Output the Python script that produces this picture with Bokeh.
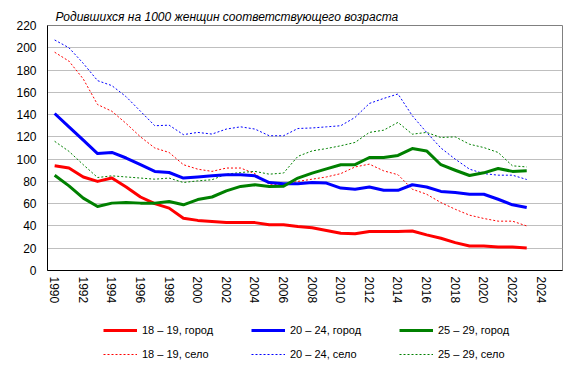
from bokeh.plotting import figure
from bokeh.models import Range1d, FixedTicker, Legend, LegendItem
from bokeh.layouts import column
from bokeh.embed import file_html
from bokeh.resources import INLINE

years = list(range(1990, 2024))

city_18_19 = [94, 92, 84, 80, 83, 75, 66, 60, 56, 47, 45, 44, 43, 43, 43, 41, 41, 39.5,
              38.3, 36, 33.5, 33, 35, 35, 35, 35.5, 32, 29, 25, 22, 22, 21, 21, 20.3]
city_20_24 = [141, 129, 117, 105, 106, 101, 95, 89, 88, 83, 84, 85, 86, 86, 85, 79, 78, 78,
              79, 78.5, 74, 73, 75, 72, 72, 77, 75, 71, 70, 68.5, 68.5, 64, 59, 56.5]
city_25_29 = [85.5, 76, 65, 57.5, 60.5, 61, 60.5, 60.5, 62, 59, 63.7, 66, 71.5, 75.5, 77, 75.5, 75.7, 83,
              87.4, 91.3, 95, 95, 101.5, 101.5, 103.3, 109.5, 107.4, 95, 90, 85.3, 87.7, 91.6, 89, 89.5]
rural_18_19 = [196, 188, 172, 149, 143, 132, 120, 110, 106, 95, 91, 89, 92, 92, 87, 77.5, 77, 80,
               82, 84, 87, 93, 95.5, 89.5, 86, 73, 68.5, 61, 55, 49.7, 46.7, 44.3, 44.3, 40]
rural_20_24 = [207, 200, 186, 170.5, 166, 156, 143, 130, 130.5, 122, 124, 122.5, 127, 129, 127, 121, 121, 127.5,
               128, 129, 130, 137.5, 150, 154.5, 158.5, 139, 124, 110, 100, 91, 87, 85.6, 85.6, 81.7]
rural_25_29 = [116, 107, 95, 83.5, 85, 84, 83, 82, 83, 79, 80.5, 81.5, 86.5, 88, 89, 86.5, 87.5, 102.5,
               107.4, 109.5, 112, 115, 124, 126, 133, 122.4, 124, 119.4, 120, 113.4, 110.4, 106, 94, 93]

labels_city = ["18 – 19, город", "20 – 24, город", "25 – 29, город"]
labels_rural = ["18 – 19, село", "20 – 24, село", "25 – 29, село"]
colors = ["#ff0000", "#0000ff", "#008000"]
x_ticks = list(range(1990, 2025, 2))
y_ticks = list(range(0, 221, 20))
title_text = "Родившихся на 1000 женщин соответствующего возраста"

FONT = "Liberation Sans"
DASH = "2 2"

p = figure(width=576, height=310, output_backend="svg", toolbar_location=None,
           x_range=Range1d(1989.5, 2025.5), y_range=Range1d(0, 220),
           min_border_left=47, min_border_right=14, min_border_top=25, min_border_bottom=40,
           title=title_text)
p.background_fill_color = "white"
p.border_fill_color = "white"
p.outline_line_color = "#808080"

p.title.align = "left"
p.title.offset = 8
p.title.standoff = 4
p.title.text_font = FONT
p.title.text_font_style = "italic"
p.title.text_font_size = "12px"
p.title.text_color = "black"

p.xgrid.visible = False
p.ygrid.grid_line_color = "#bfbfbf"
p.ygrid.grid_line_width = 1

for ax in (p.xaxis[0], p.yaxis[0]):
    ax.major_tick_out = 0
    ax.major_tick_in = 0
    ax.minor_tick_out = 0
    ax.minor_tick_in = 0
    ax.axis_line_color = "black"
    ax.axis_line_width = 1
    ax.major_label_text_font = FONT
    ax.major_label_text_font_size = "12px"
    ax.major_label_text_color = "black"

p.xaxis.ticker = FixedTicker(ticks=x_ticks)
p.xaxis.major_label_orientation = "vertical"
p.xaxis.major_label_standoff = 6
p.yaxis.ticker = FixedTicker(ticks=y_ticks)
p.yaxis.major_label_standoff = 11

city_series = [city_18_19, city_20_24, city_25_29]
rural_series = [rural_18_19, rural_20_24, rural_25_29]

for vals, c in zip(rural_series, colors):
    p.line(years, vals, line_color=c, line_width=1, line_dash=DASH)
for vals, c in zip(city_series, colors):
    p.line(years, vals, line_color=c, line_width=3, line_join="round")

# legend strip below the chart (series drawn outside its visible range, only the keys show)
pl = figure(width=576, height=62, output_backend="svg", toolbar_location=None,
            x_range=Range1d(0, 1), y_range=Range1d(0, 1),
            min_border_left=0, min_border_right=0, min_border_top=0, min_border_bottom=0,
            x_axis_type=None, y_axis_type=None, title=None)
pl.outline_line_color = None
pl.xgrid.visible = False
pl.ygrid.visible = False
pl.background_fill_color = "white"
pl.border_fill_color = "white"

city_keys = [pl.line(years, vals, line_color=c, line_width=3)
             for vals, c in zip(city_series, colors)]
rural_keys = [pl.line(years, vals, line_color=c, line_width=1, line_dash=DASH)
              for vals, c in zip(rural_series, colors)]


def make_legend(renderers, labels, loc):
    return Legend(items=[LegendItem(label=l, renderers=[r]) for l, r in zip(labels, renderers)],
                  orientation="horizontal", location=loc,
                  glyph_width=34, glyph_height=14, label_height=14, label_width=99,
                  label_standoff=5, spacing=10, padding=0, margin=0,
                  border_line_color=None, background_fill_alpha=0,
                  label_text_font=FONT, label_text_font_size="11px", label_text_color="black")


pl.add_layout(make_legend(city_keys, labels_city, (56, 35)))
pl.add_layout(make_legend(rural_keys, labels_rural, (56, 11)))

layout = column(p, pl, spacing=0)
open("out.html", "w").write(file_html(layout, INLINE))
